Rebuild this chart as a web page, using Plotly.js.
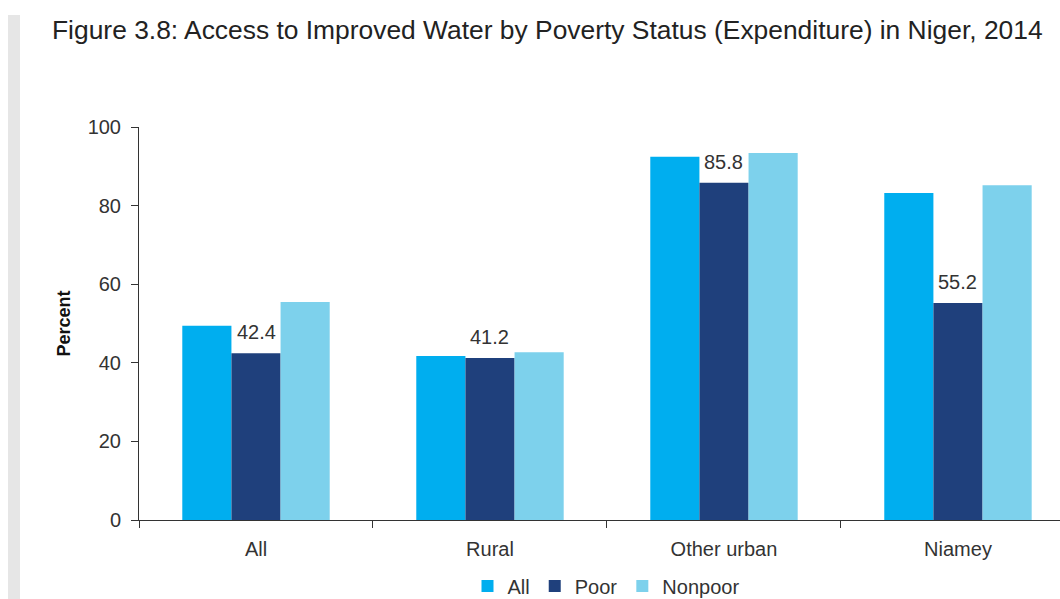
<!DOCTYPE html>
<html><head><meta charset="utf-8">
<script src="https://cdn.plot.ly/plotly-3.0.1.min.js"></script>
<style>html,body{margin:0;padding:0;background:#fff;overflow:hidden}</style>
</head><body>
<div id="chart" style="width:1060px;height:599px"></div>
<script>
const categories = ["All", "Rural", "Other urban", "Niamey"];
const allValues = [49.4, 41.7, 92.4, 83.2];
const poorValues = [42.4, 41.2, 85.8, 55.2];
const nonpoorValues = [55.5, 42.7, 93.4, 85.2];
const yTicks = [0, 20, 40, 60, 80, 100];

const FONT = "Liberation Sans, Arial, sans-serif";
const traces = [
  {type:"bar", name:"All", x:categories, y:allValues, marker:{color:"#00AEEF"}, hoverinfo:"y"},
  {type:"bar", name:"Poor", x:categories, y:poorValues, marker:{color:"#1F407C"}, hoverinfo:"y"},
  {type:"bar", name:"Nonpoor", x:categories, y:nonpoorValues, marker:{color:"#7DD1EC"}, hoverinfo:"y"}
];
const annotations = categories.map((c, i) => ({
  x:c, y:poorValues[i], xref:"x", yref:"y", text:poorValues[i].toFixed(1),
  showarrow:false, yanchor:"bottom", xanchor:"center", yshift:8,
  font:{family:FONT, size:20, color:"#333"}
}));
const layout = {
  width:1060, height:599,
  margin:{l:139, r:0, t:127, b:79},
  paper_bgcolor:"#fff", plot_bgcolor:"#fff",
  font:{family:FONT, color:"#333", size:20},
  barmode:"group", bargap:0.37, bargroupgap:0,
  showlegend:true,
  title:{text:"Figure 3.8: Access to Improved Water by Poverty Status (Expenditure) in Niger, 2014",
    font:{family:FONT, size:26.4, color:"#222"}, x:52/1060, xanchor:"left", xref:"container",
    y:1-30/599, yanchor:"middle", yref:"container"},
  xaxis:{range:[-0.5, 3.436], showline:true, linecolor:"#333", linewidth:1,
    ticks:"outside", tickson:"boundaries", ticklen:7, tickcolor:"#333", ticklabelstandoff:11,
    tickfont:{family:FONT, size:20, color:"#333"}, showgrid:false, zeroline:false, fixedrange:true},
  yaxis:{range:[0,100], tickvals:yTicks, showline:true, linecolor:"#333", linewidth:1,
    ticks:"outside", ticklen:7, tickcolor:"#333", showgrid:false, zeroline:false, ticklabelstandoff:6,
    tickfont:{family:FONT, size:20, color:"#333"},
    title:{text:"<b>Percent</b>", font:{family:FONT, size:18, color:"#111"}, standoff:12}},
  legend:{orientation:"h", x:606/1060, xanchor:"center", xref:"container", y:13/599, yanchor:"middle", yref:"container",
    font:{family:FONT, size:20, color:"#333"}, itemwidth:30, traceorder:"normal"},
  annotations:annotations,
  shapes:[{type:"rect", xref:"paper", yref:"paper", x0:-131/921, x1:-119/921, y0:-79/393, y1:(599-15-79)/393,
    fillcolor:"#e6e6e6", line:{width:0}, layer:"below"}]
};
Plotly.newPlot("chart", traces, layout, {displayModeBar:false});
</script>
</body></html>
